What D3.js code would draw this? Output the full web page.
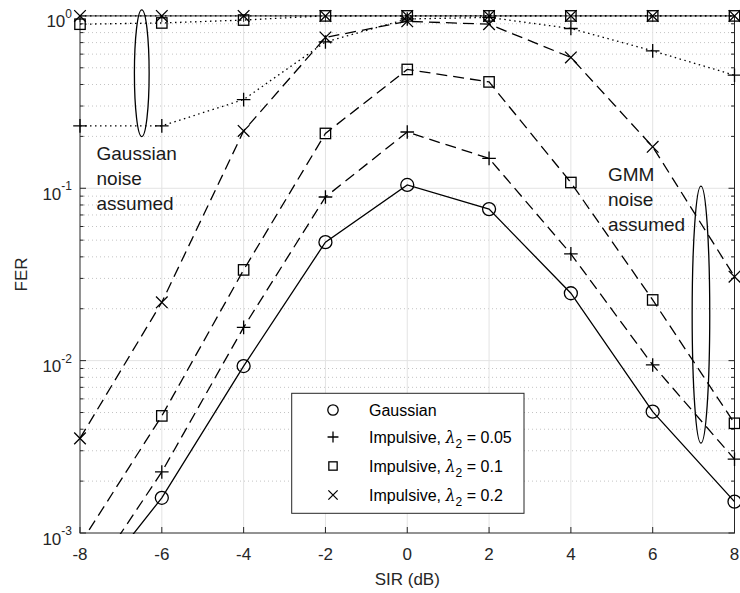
<!DOCTYPE html>
<html><head><meta charset="utf-8">
<script src="https://cdn.jsdelivr.net/npm/d3@7"></script>
<style>
html,body{margin:0;padding:0;background:#fff;}
svg{display:block;font-family:"Liberation Sans",Arial,Helvetica,sans-serif;}
</style></head>
<body>
<svg id="chart" width="740" height="593"></svg>
<script>
// ---- data ----
const sir = [-8, -6, -4, -2, 0, 2, 4, 6, 8];
const xTicks = [-8, -6, -4, -2, 0, 2, 4, 6, 8];
const yTickExps = [0, -1, -2, -3];

// GMM noise assumed (dashed / solid)
const gaussian   = [4.0e-4, 1.6e-3, 0.0093, 0.0487, 0.1045, 0.0757, 0.0246, 0.00506, 0.00152];
const imp005Gmm  = [4.4e-4, 2.26e-3, 0.0156, 0.089, 0.212, 0.149, 0.0416, 0.00944, 0.00268];
const imp01Gmm   = [8.6e-4, 4.78e-3, 0.0336, 0.208, 0.489, 0.414, 0.108, 0.0225, 0.00433];
const imp02Gmm   = [3.54e-3, 0.0218, 0.215, 0.75, 0.93, 0.895, 0.574, 0.174, 0.0307];
// Gaussian noise assumed (dotted)
const imp005Gau  = [0.23, 0.23, 0.327, 0.706, 0.96, 0.98, 0.845, 0.627, 0.453];
const imp01Gau   = [0.895, 0.91, 0.946, 1, 1, 1, 1, 1, 1];
const imp02Gau   = [1, 1, 1, 1, 1, 1, 1, 1, 1];

const legendLabels = ["Gaussian", "Impulsive, ", "Impulsive, ", "Impulsive, "];
const legendLambda = [null, "0.05", "0.1", "0.2"];
const legendMarkers = ["circle", "plus", "square", "cross"];

const annotLeft = ["Gaussian", "noise", "assumed"];
const annotRight = ["GMM", "noise", "assumed"];
// ellipses: [center SIR, half-width dB, log10 low, log10 high]
const ellipseLeft = [-6.49, 0.18, -0.70, 0.035];
const ellipseRight = [7.18, 0.215, -2.479, -0.987];

// ---- layout ----
const L = 80, R = 734.5, T = 15.9, B = 533;
const axisColor = "#262626";
const svg = d3.select("#chart");
const x = d3.scaleLinear().domain([-8, 8]).range([L, R]);
const y = d3.scaleLog().domain([1e-3, 1]).range([B, T]);

// grid
const grid = svg.append("g");
const minorVals = [];
for (let e = -3; e < 0; e++) for (let m = 2; m <= 9; m++) minorVals.push(m * Math.pow(10, e));
grid.selectAll("line.minor").data(minorVals).enter().append("line")
  .attr("x1", L).attr("x2", R).attr("y1", d => y(d)).attr("y2", d => y(d))
  .attr("stroke", "#c4c4c4").attr("stroke-width", 1).attr("stroke-dasharray", "1,3");
grid.selectAll("line.majy").data([0.1, 0.01]).enter().append("line")
  .attr("x1", L).attr("x2", R).attr("y1", d => y(d)).attr("y2", d => y(d))
  .attr("stroke", "#e3e3e3").attr("stroke-width", 1);
grid.selectAll("line.majx").data(xTicks.slice(1, -1)).enter().append("line")
  .attr("y1", T).attr("y2", B).attr("x1", d => x(d)).attr("x2", d => x(d))
  .attr("stroke", "#e3e3e3").attr("stroke-width", 1);

// frame & ticks
const ax = svg.append("g").attr("stroke", axisColor).attr("fill", "none");
ax.append("rect").attr("x", L).attr("y", T).attr("width", R - L).attr("height", B - T).attr("stroke-width", 1);
xTicks.forEach(t => {
  ax.append("line").attr("x1", x(t)).attr("x2", x(t)).attr("y1", B).attr("y2", B - 6);
  ax.append("line").attr("x1", x(t)).attr("x2", x(t)).attr("y1", T).attr("y2", T + 6);
});
yTickExps.forEach(e => {
  const v = Math.pow(10, e);
  ax.append("line").attr("x1", L).attr("x2", L + 6).attr("y1", y(v)).attr("y2", y(v));
  ax.append("line").attr("x1", R).attr("x2", R - 6).attr("y1", y(v)).attr("y2", y(v));
});
minorVals.forEach(v => {
  ax.append("line").attr("x1", L).attr("x2", L + 3.5).attr("y1", y(v)).attr("y2", y(v));
  ax.append("line").attr("x1", R).attr("x2", R - 3.5).attr("y1", y(v)).attr("y2", y(v));
});

// tick labels
const tl = svg.append("g").attr("fill", axisColor).attr("font-size", 17);
xTicks.forEach(t => {
  tl.append("text").attr("x", x(t)).attr("y", 560).attr("text-anchor", "middle").text(t);
});
yTickExps.forEach(e => {
  const v = Math.pow(10, e);
  const tx = tl.append("text").attr("x", 72).attr("y", y(v) + 11.5).attr("text-anchor", "end");
  tx.append("tspan").text("10");
  tx.append("tspan").attr("dy", -9.5).attr("font-size", 12).text(e);
});
svg.append("text").attr("x", (L + R) / 2).attr("y", 585).attr("text-anchor", "middle")
  .attr("font-size", 17).attr("fill", axisColor).text("SIR (dB)");
svg.append("text").attr("transform", `translate(27,${(T + B) / 2}) rotate(-90)`).attr("text-anchor", "middle")
  .attr("font-size", 17).attr("fill", axisColor).text("FER");

// clip
svg.append("defs").append("clipPath").attr("id", "clip")
  .append("rect").attr("x", L).attr("y", T - 1).attr("width", R - L).attr("height", B - T + 2);

const lineGen = d3.line().x((d, i) => x(sir[i])).y(d => y(d));
const series = [
  {v: imp02Gau, dash: "1.5,3.5", m: "cross"},
  {v: imp01Gau, dash: "1.5,3.5", m: "square"},
  {v: imp005Gau, dash: "1.5,3.5", m: "plus"},
  {v: imp02Gmm, dash: "11,6", m: "cross"},
  {v: imp01Gmm, dash: "11,6", m: "square"},
  {v: imp005Gmm, dash: "11,6", m: "plus"},
  {v: gaussian, dash: null, m: "circle"}
];

function drawMarker(g, type, cx, cy, s) {
  s = s || 1;
  const st = {stroke: "#000", "stroke-width": 1.3, fill: "none"};
  let el;
  if (type === "circle") el = g.append("circle").attr("cx", cx).attr("cy", cy).attr("r", 6.5 * s);
  else if (type === "square") { const h = 5.2 * s; el = g.append("rect").attr("x", cx - h).attr("y", cy - h).attr("width", 2 * h).attr("height", 2 * h); }
  else if (type === "plus") { const a = 6.8 * s; el = g.append("path").attr("d", `M${cx - a},${cy}H${cx + a}M${cx},${cy - a}V${cy + a}`); }
  else if (type === "cross") { const a = 5.8 * s; el = g.append("path").attr("d", `M${cx - a},${cy - a}L${cx + a},${cy + a}M${cx - a},${cy + a}L${cx + a},${cy - a}`); }
  Object.entries(st).forEach(([k, v]) => el.attr(k, v));
}

const plot = svg.append("g");
series.forEach(s => {
  const p = plot.append("path").attr("clip-path", "url(#clip)").attr("d", lineGen(s.v))
    .attr("fill", "none").attr("stroke", "#000").attr("stroke-width", 1.3);
  if (s.dash) p.attr("stroke-dasharray", s.dash);
});
series.forEach(s => {
  s.v.forEach((d, i) => {
    if (d >= 1e-3) drawMarker(plot, s.m, x(sir[i]), y(d));
  });
});

// ellipses
function drawEllipse(e) {
  const cy1 = y(Math.pow(10, e[2])), cy2 = y(Math.pow(10, e[3]));
  const rx = x(e[0] + e[1]) - x(e[0]);
  svg.append("ellipse").attr("cx", x(e[0])).attr("cy", (cy1 + cy2) / 2)
    .attr("rx", rx).attr("ry", Math.abs(cy1 - cy2) / 2)
    .attr("fill", "none").attr("stroke", "#000").attr("stroke-width", 1.3);
}
drawEllipse(ellipseLeft);
drawEllipse(ellipseRight);

// annotations
annotLeft.forEach((t, i) => svg.append("text").attr("x", 96.5).attr("y", 160 + i * 25)
  .attr("font-size", 19).attr("fill", "#1a1a1a").text(t));
annotRight.forEach((t, i) => svg.append("text").attr("x", 608).attr("y", 181 + i * 25)
  .attr("font-size", 19).attr("fill", "#1a1a1a").text(t));

// legend
const lg = svg.append("g");
lg.append("rect").attr("x", 291.7).attr("y", 393.3).attr("width", 232.3).attr("height", 120)
  .attr("fill", "#fff").attr("stroke", axisColor).attr("stroke-width", 1);
const rowsY = [410, 437, 466, 495];
legendLabels.forEach((lab, i) => {
  drawMarker(lg, legendMarkers[i], 333, rowsY[i], 0.8);
  const t = lg.append("text").attr("x", 369).attr("y", rowsY[i] + 5.5).attr("font-size", 16).attr("fill", "#000");
  t.append("tspan").text(lab);
  if (legendLambda[i]) {
    t.append("tspan").attr("font-style", "italic").attr("font-family", "DejaVu Serif, serif").text("λ");
    t.append("tspan").attr("dy", 5).attr("font-size", 12).text("2");
    t.append("tspan").attr("dy", -5).text(" = " + legendLambda[i]);
  }
});
</script>
</body></html>
